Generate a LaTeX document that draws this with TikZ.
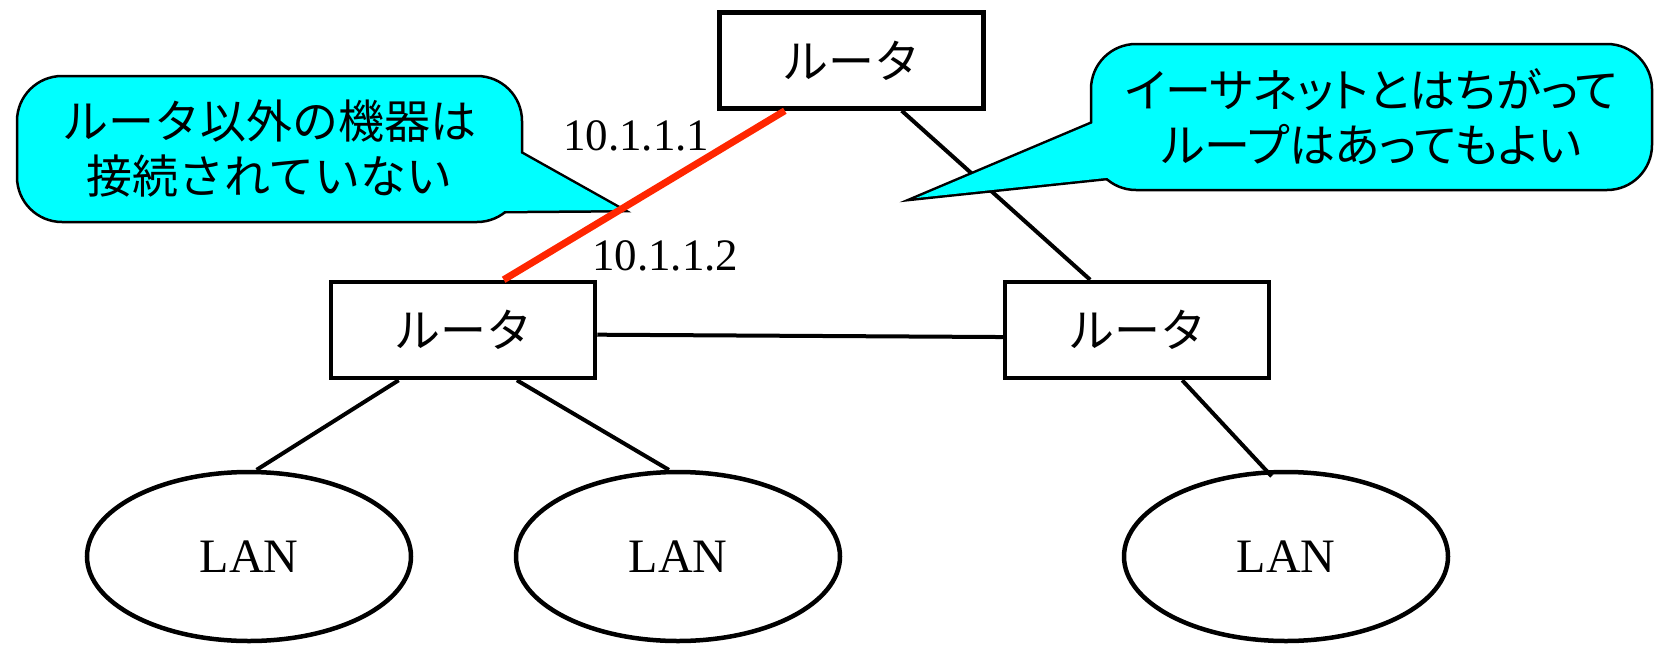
\documentclass[tikz,border=0pt]{standalone}
\usepackage{fontspec}
\setmainfont{Liberation Serif}
\newfontfamily\jpfont{Noto Sans CJK JP}
\newfontfamily\jppfont[RawFeature=+palt]{Noto Sans CJK JP}
\usetikzlibrary{shapes.geometric}

\definecolor{notecyan}{RGB}{0,255,255}
\definecolor{linkred}{RGB}{255,38,0}

\begin{document}
\begin{tikzpicture}[x=1pt, y=-1pt]
    % Define styles
    \tikzstyle{router} = [rectangle, draw, line width=4.5pt, minimum width=264pt, minimum height=96pt, inner sep=0pt, font=\jpfont\fontsize{46}{55}\selectfont]
    \tikzstyle{lan} = [ellipse, draw, line width=4.5pt, minimum width=324pt, minimum height=169pt, inner sep=0pt, font=\fontsize{48}{58}\selectfont]
    \tikzstyle{link} = [line width=4pt]
    \tikzstyle{redlink} = [line width=7pt, draw=linkred]
    \tikzstyle{note} = [rectangle, draw, fill=notecyan, line width=2.5pt, rounded corners=45pt, align=center, inner sep=0pt, minimum height=146pt, font=\jpfont\fontsize{46}{55}\selectfont]
    \tikzstyle{pointer} = [line width=5pt, line join=miter]
    \tikzstyle{addr} = [anchor=base west, inner sep=0pt, font=\fontsize{45}{54}\selectfont]

    \useasboundingbox (0,0) rectangle (1655,646);

    % Nodes
    \node[router] (rT) at (851.5,60.5) {ルータ};
    \node[router] (rL) at (463,330) {ルータ};
    \node[router] (rR) at (1137,330) {ルータ};
    \node[lan] (L1) at (249,556.5) {LAN};
    \node[lan] (L2) at (678,556.5) {LAN};
    \node[lan] (L3) at (1286,556.5) {LAN};

    % Links
    \draw[link] (rT.-45) -- (rR.133);
    \draw[link] (rL.-2) -- (rR.183);
    \draw[link] (rL.218) -- (L1.85);
    \draw[link] (rL.-43) -- (L2.96);
    \draw[link, shorten >=-8pt] (rR.-48) -- (L3.103);

    % Callouts
    \coordinate (tipA) at (622,210);
    \coordinate (baseA1) at (515,150);
    \coordinate (baseA2) at (495,211);
    \draw[pointer] (baseA1) -- (tipA) -- (baseA2);
    \node[note, minimum width=505pt] (noteA) at (269.5,149) {ルータ以外の機器は\\接続されていない};
    \fill[notecyan] (baseA1) -- (tipA) -- (baseA2) -- cycle;

    \coordinate (tipB) at (916,198);
    \coordinate (baseB1) at (1098,121);
    \coordinate (baseB2) at (1115,177);
    \draw[pointer] (baseB1) -- (tipB) -- (baseB2);
    \node[note, minimum width=561pt, font=\jppfont\fontsize{46}{55}\selectfont] (noteB) at (1371.5,117) {イーサネットとはちがって\\ループはあってもよい};
    \fill[notecyan] (baseB1) -- (tipB) -- (baseB2) -- cycle;

    % Point-to-point link
    \draw[redlink] (rL.51) -- (rT.217);
    \node[addr] (ip1) at (563,150) {10.1.1.1};
    \node[addr] (ip2) at (592,270) {10.1.1.2};
\end{tikzpicture}
\end{document}
